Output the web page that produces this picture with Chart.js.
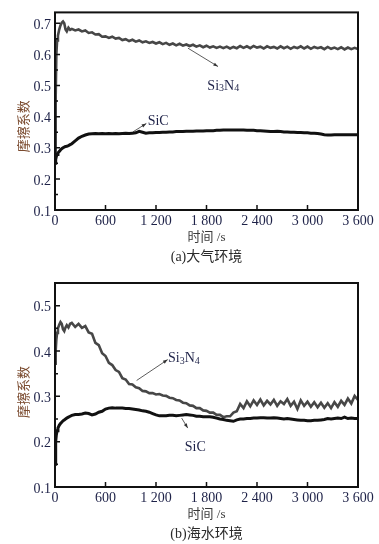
<!DOCTYPE html>
<html>
<head>
<meta charset="utf-8">
<script src="https://cdn.jsdelivr.net/npm/chart.js@4.4.0/dist/chart.umd.min.js"></script>
<style>
  body { margin: 0; background: #fff; }
  canvas { position: absolute; left: 0; }
</style>
</head>
<body>
<canvas id="chartA" width="379" height="268" style="top:0"></canvas>
<canvas id="chartB" width="379" height="274" style="top:270px"></canvas>
<script>
// --- DATOS ---
const tiempos = [0, 8, 16, 25, 35, 50, 65, 80, 95, 110, 125, 140, 160, 180,
  200, 240, 280, 320, 360, 400, 440, 480, 520, 560,
  600, 640, 680, 720, 760, 800, 840, 880, 920, 960,
  1000, 1040, 1080, 1120, 1160, 1200, 1240, 1280, 1320, 1360,
  1400, 1440, 1480, 1520, 1560, 1600, 1640, 1680, 1720, 1760,
  1800, 1840, 1880, 1920, 1960, 2000, 2040, 2080, 2120, 2160,
  2200, 2240, 2280, 2320, 2360, 2400, 2440, 2480, 2520, 2560,
  2600, 2640, 2680, 2720, 2760, 2800, 2840, 2880, 2920, 2960,
  3000, 3040, 3080, 3120, 3160, 3200, 3240, 3280, 3320, 3360,
  3400, 3440, 3480, 3520, 3560, 3600];

// (a) 大气环境
const si3n4Aire = [0.27, 0.46, 0.6, 0.645, 0.66, 0.68, 0.693, 0.702, 0.706, 0.7, 0.68, 0.674, 0.686, 0.679,
  0.682, 0.677, 0.68, 0.674, 0.677, 0.669, 0.671, 0.664, 0.665, 0.657,
  0.658, 0.653, 0.657, 0.651, 0.653, 0.646, 0.649, 0.643, 0.647, 0.641,
  0.645, 0.639, 0.642, 0.637, 0.64, 0.635, 0.639, 0.633, 0.637, 0.631,
  0.635, 0.629, 0.634, 0.628, 0.632, 0.627, 0.631, 0.625, 0.629, 0.623,
  0.628, 0.622, 0.626, 0.621, 0.625, 0.62, 0.625, 0.619, 0.624, 0.62,
  0.627, 0.621, 0.626, 0.62, 0.627, 0.622, 0.625, 0.619, 0.626, 0.621,
  0.624, 0.619, 0.626, 0.62, 0.625, 0.618, 0.624, 0.62, 0.626, 0.619,
  0.625, 0.618, 0.624, 0.62, 0.623, 0.617, 0.624, 0.618, 0.622, 0.617,
  0.623, 0.616, 0.622, 0.617, 0.621, 0.617];
const sicAire = [0.25, 0.262, 0.272, 0.278, 0.283, 0.288, 0.293, 0.297, 0.3, 0.302, 0.304, 0.305, 0.307, 0.31,
  0.313, 0.322, 0.331, 0.337, 0.341, 0.344, 0.345, 0.346, 0.345, 0.346,
  0.345, 0.346, 0.345, 0.346, 0.345, 0.346, 0.347, 0.346, 0.347, 0.348,
  0.353, 0.35, 0.347, 0.348, 0.348, 0.349, 0.349, 0.35, 0.35, 0.351,
  0.351, 0.352, 0.352, 0.352, 0.353, 0.353, 0.353, 0.354, 0.354, 0.354,
  0.355, 0.355, 0.355, 0.356, 0.356, 0.357, 0.357, 0.357, 0.357, 0.357,
  0.357, 0.357, 0.356, 0.356, 0.356, 0.355, 0.355, 0.354, 0.353, 0.352,
  0.352, 0.353, 0.352, 0.351, 0.351, 0.35, 0.35, 0.349, 0.349, 0.348,
  0.348, 0.347, 0.347, 0.346, 0.344, 0.342, 0.341, 0.341, 0.342, 0.342,
  0.342, 0.342, 0.342, 0.342, 0.342, 0.342];

// (b) 海水环境
const si3n4Mar = [0.372, 0.4, 0.425, 0.44, 0.45, 0.458, 0.464, 0.46, 0.448, 0.444, 0.452, 0.457, 0.452, 0.46,
  0.462, 0.453, 0.46, 0.451, 0.455, 0.441, 0.438, 0.418, 0.413, 0.395,
  0.389, 0.374, 0.369, 0.358, 0.354, 0.34, 0.337, 0.327, 0.326, 0.32,
  0.318, 0.312, 0.311, 0.307, 0.307, 0.304, 0.305, 0.302, 0.301, 0.297,
  0.296, 0.292, 0.291, 0.286, 0.285, 0.28, 0.279, 0.274, 0.274, 0.269,
  0.268, 0.264, 0.264, 0.259, 0.259, 0.254, 0.256, 0.256, 0.264, 0.267,
  0.283, 0.274, 0.289, 0.278, 0.291, 0.281, 0.293, 0.28, 0.29, 0.282,
  0.292, 0.279, 0.289, 0.283, 0.294, 0.279, 0.288, 0.272, 0.291, 0.279,
  0.288, 0.277, 0.287, 0.276, 0.286, 0.275, 0.285, 0.274, 0.287, 0.277,
  0.29, 0.281, 0.295, 0.284, 0.301, 0.292];
const sicMar = [0.15, 0.2, 0.215, 0.224, 0.23, 0.236, 0.24, 0.243, 0.246, 0.248, 0.25, 0.252, 0.254, 0.256,
  0.258, 0.26, 0.26, 0.261, 0.263, 0.262, 0.259, 0.261, 0.265, 0.267,
  0.272, 0.274, 0.275, 0.274, 0.274, 0.274, 0.273, 0.273, 0.272, 0.271,
  0.27, 0.268, 0.267, 0.265, 0.262, 0.259, 0.257, 0.257, 0.257, 0.258,
  0.258, 0.257, 0.258, 0.259, 0.26, 0.259, 0.258, 0.256, 0.256, 0.255,
  0.255, 0.255, 0.254, 0.252, 0.25, 0.249, 0.247, 0.246, 0.245, 0.248,
  0.25, 0.25, 0.251, 0.251, 0.252, 0.252, 0.253, 0.253, 0.252, 0.252,
  0.253, 0.252, 0.251, 0.25, 0.251, 0.25, 0.249, 0.248, 0.247, 0.247,
  0.246, 0.246, 0.247, 0.247, 0.248, 0.249, 0.251, 0.25, 0.251, 0.252,
  0.251, 0.254, 0.251, 0.252, 0.251, 0.251];

// ejes
const xTicks = [0, 600, 1200, 1800, 2400, 3000, 3600];
const xTickLabels = ['0', '600', '1 200', '1 800', '2 400', '3 000', '3 600'];
const yTicksA = [0.1, 0.2, 0.3, 0.4, 0.5, 0.6, 0.7];
const yMinorA = [0.15, 0.25, 0.35, 0.45, 0.55, 0.65];
const yTicksB = [0.1, 0.2, 0.3, 0.4, 0.5];
const yMinorB = [0.15, 0.25, 0.35, 0.45];

const SERIF = '"Liberation Serif", "Times New Roman", serif';
const CJK = '"Liberation Serif", "Noto Sans CJK SC", sans-serif';
const TICK_COLOR = '#1e2248';

// --- PLUGIN: marco, ticks hacia dentro, textos y flechas ---
function textoQuimico(ctx, partes, x, y) {
  ctx.textBaseline = 'middle';
  ctx.textAlign = 'left';
  partes.forEach(([txt, sub]) => {
    ctx.font = (sub ? '10px ' : '14px ') + SERIF;
    ctx.fillText(txt, x, sub ? y + 3 : y);
    x += ctx.measureText(txt).width;
  });
}

function flecha(ctx, x1, y1, x2, y2) {
  ctx.beginPath();
  ctx.moveTo(x1, y1);
  ctx.lineTo(x2, y2);
  ctx.stroke();
  const ang = Math.atan2(y2 - y1, x2 - x1);
  ctx.beginPath();
  ctx.moveTo(x2, y2);
  ctx.lineTo(x2 - 5 * Math.cos(ang - 0.35), y2 - 5 * Math.sin(ang - 0.35));
  ctx.lineTo(x2 - 5 * Math.cos(ang + 0.35), y2 - 5 * Math.sin(ang + 0.35));
  ctx.closePath();
  ctx.fill();
}

const marco = {
  id: 'marco',
  afterDraw(chart, args, o) {
    const { ctx, chartArea: a, scales: { x, y } } = chart;
    ctx.save();
    ctx.strokeStyle = '#111';
    ctx.lineWidth = 2;
    ctx.strokeRect(a.left, a.top, a.right - a.left, a.bottom - a.top);

    ctx.lineWidth = 1.5;
    ctx.beginPath();
    xTicks.forEach(v => {
      const px = x.getPixelForValue(v);
      ctx.moveTo(px, a.bottom);
      ctx.lineTo(px, a.bottom - 5);
    });
    o.yTicks.forEach(v => {
      const py = y.getPixelForValue(v);
      ctx.moveTo(a.left, py);
      ctx.lineTo(a.left + 5, py);
    });
    o.yMinor.forEach(v => {
      const py = y.getPixelForValue(v);
      ctx.moveTo(a.left, py);
      ctx.lineTo(a.left + 3, py);
    });
    ctx.stroke();

    // etiquetas de las curvas
    ctx.fillStyle = TICK_COLOR;
    o.etiquetas.forEach(e => {
      textoQuimico(ctx, e.partes, x.getPixelForValue(e.t), y.getPixelForValue(e.v));
    });
    ctx.strokeStyle = '#333';
    ctx.fillStyle = '#333';
    ctx.lineWidth = 0.8;
    o.flechas.forEach(f => {
      flecha(ctx, x.getPixelForValue(f[0]), y.getPixelForValue(f[1]),
        x.getPixelForValue(f[2]), y.getPixelForValue(f[3]));
    });

    // titulo eje y
    ctx.save();
    ctx.translate(23, (a.top + a.bottom) / 2 + o.yTituloDesp);
    ctx.rotate(-Math.PI / 2);
    ctx.fillStyle = '#7a4a2e';
    ctx.font = '13px "Noto Sans CJK SC", sans-serif';
    ctx.textAlign = 'center';
    ctx.textBaseline = 'middle';
    ctx.fillText('摩擦系数', 0, 0);
    ctx.restore();

    // titulo eje x y leyenda
    const cx = (a.left + a.right) / 2;
    ctx.textAlign = 'center';
    ctx.textBaseline = 'middle';
    ctx.fillStyle = '#3a3a3a';
    ctx.font = '13px ' + CJK;
    ctx.fillText('时间 /s', cx, a.bottom + 28);
    ctx.fillStyle = '#2a2a2a';
    ctx.font = '14px ' + CJK;
    ctx.fillText(o.leyenda, cx, a.bottom + 47);
    ctx.restore();
  }
};

function puntos(serie) {
  return tiempos.map((t, i) => ({ x: t, y: serie[i] }));
}

function crearGrafico(id, cfg) {
  return new Chart(document.getElementById(id), {
    type: 'line',
    data: {
      datasets: [
        { label: 'SiC', data: puntos(cfg.sic), borderColor: '#111', borderWidth: 3 },
        { label: 'Si3N4', data: puntos(cfg.si3n4), borderColor: '#474747', borderWidth: 2.6 }
      ]
    },
    options: {
      responsive: false,
      animation: false,
      elements: { point: { radius: 0 }, line: { tension: 0 } },
      layout: { padding: { top: cfg.padTop, right: 21, bottom: 0, left: 0 } },
      plugins: {
        legend: { display: false },
        tooltip: { enabled: false },
        marco: cfg.marco
      },
      scales: {
        x: {
          type: 'linear',
          min: 0,
          max: 3600,
          afterBuildTicks: s => { s.ticks = xTicks.map(v => ({ value: v })); },
          afterFit: s => { s.height = cfg.xAlto; },
          grid: { display: false, drawTicks: false },
          border: { display: false },
          ticks: {
            maxRotation: 0,
            autoSkip: false,
            padding: 3,
            color: TICK_COLOR,
            font: { family: SERIF, size: 14 },
            callback: (v, i) => xTickLabels[i]
          }
        },
        y: {
          min: 0.1,
          max: cfg.yMax,
          afterBuildTicks: s => { s.ticks = cfg.marco.yTicks.map(v => ({ value: v })); },
          afterFit: s => { s.width = 55; },
          grid: { display: false, drawTicks: false },
          border: { display: false },
          ticks: {
            padding: 4,
            labelOffset: 2,
            color: TICK_COLOR,
            font: { family: SERIF, size: 14 },
            callback: v => v.toFixed(1)
          }
        }
      }
    },
    plugins: [marco]
  });
}

crearGrafico('chartA', {
  sic: sicAire,
  si3n4: si3n4Aire,
  padTop: 5,
  xAlto: 58,
  yMax: 0.735,
  marco: {
    yTicks: yTicksA,
    yMinor: yMinorA,
    yTituloDesp: 15,
    leyenda: '(a)大气环境',
    etiquetas: [
      { partes: [['Si', false], ['3', true], ['N', false], ['4', true]], t: 1810, v: 0.499 },
      { partes: [['SiC', false]], t: 1101, v: 0.385 }
    ],
    flechas: [[1580, 0.62, 1937, 0.561], [926, 0.351, 1085, 0.378]]
  }
});

crearGrafico('chartB', {
  sic: sicMar,
  si3n4: si3n4Mar,
  padTop: 13,
  xAlto: 57,
  yMax: 0.55,
  marco: {
    yTicks: yTicksB,
    yMinor: yMinorB,
    yTituloDesp: 7,
    leyenda: '(b)海水环境',
    etiquetas: [
      { partes: [['Si', false], ['3', true], ['N', false], ['4', true]], t: 1343, v: 0.383 },
      { partes: [['SiC', false]], t: 1541, v: 0.188 }
    ],
    flechas: [[970, 0.335, 1339, 0.381], [1505, 0.252, 1577, 0.23]]
  }
});
</script>
</body>
</html>
